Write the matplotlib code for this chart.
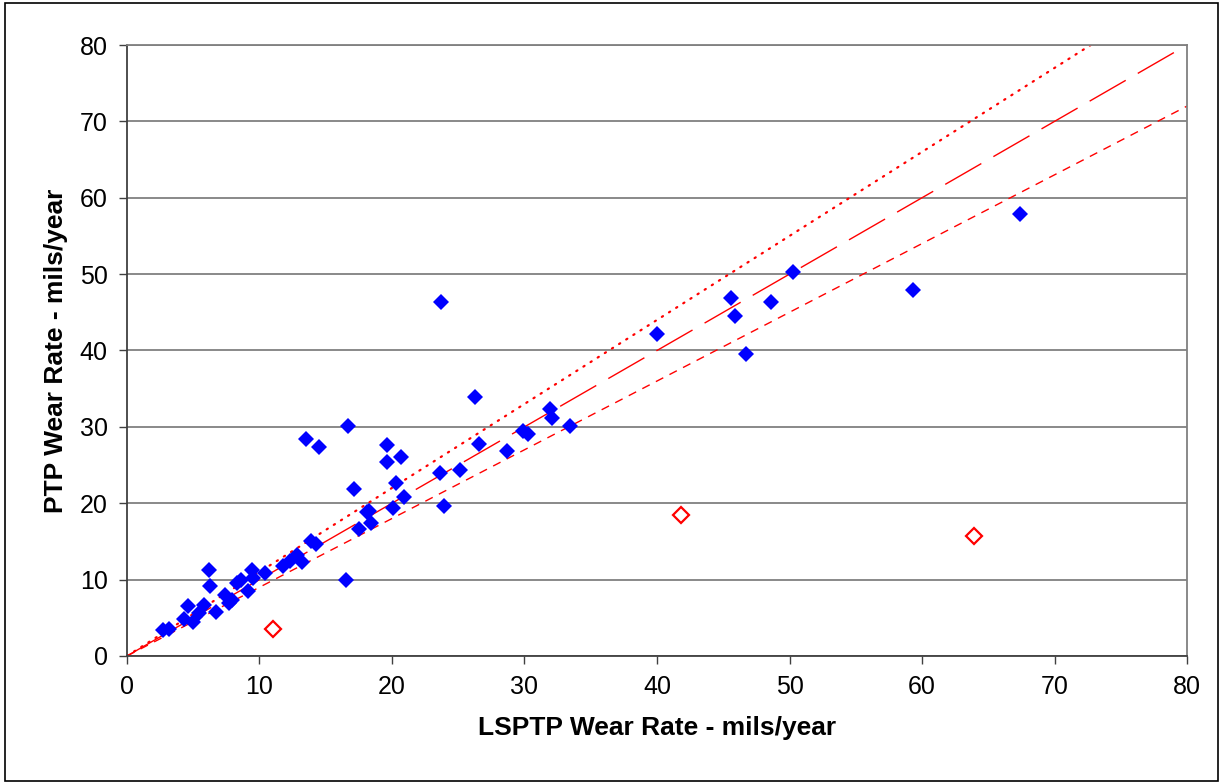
import matplotlib
matplotlib.use("Agg")
import matplotlib.pyplot as plt
from matplotlib.patches import Rectangle
import numpy as np

# ---- data ----
LSPTP = [2.7, 3.2, 4.3, 4.6, 5.0, 5.4, 5.8, 6.2, 6.3, 6.7, 7.4, 7.7, 7.9,
         8.3, 8.6, 9.1, 9.4, 9.5, 10.4, 11.8, 12.3, 12.8, 13.2, 13.5, 13.9,
         14.3, 14.5, 16.5, 16.7, 17.1, 17.5, 18.1, 18.3, 18.4, 19.6, 19.6,
         20.1, 20.3, 20.7, 20.9, 23.6, 23.7, 23.9, 25.1, 26.3, 26.6, 28.7,
         29.9, 30.3, 31.9, 32.1, 33.4, 40.0, 45.6, 45.9, 46.7, 48.6, 50.3,
         59.3, 67.4]
PTP = [3.4, 3.5, 4.8, 6.6, 4.5, 5.6, 6.7, 11.3, 9.1, 5.8, 8.0, 7.0, 7.3,
       9.6, 9.9, 8.5, 11.3, 10.2, 10.8, 11.8, 12.5, 13.2, 12.3, 28.4, 15.1,
       14.7, 27.3, 10.0, 30.1, 21.8, 16.6, 18.9, 19.0, 17.4, 27.6, 25.4,
       19.4, 22.6, 26.0, 20.8, 23.9, 46.4, 19.7, 24.4, 33.9, 27.8, 26.8,
       29.4, 29.1, 32.3, 31.2, 30.1, 42.2, 46.9, 44.5, 39.6, 46.4, 50.3,
       47.9, 57.9]

# excluded points (open red diamonds)
OUT_LSPTP = [11.0, 41.8, 63.9]
OUT_PTP = [3.5, 18.4, 15.7]

# reference lines y = k * x
SLOPES = [1.1, 1.0, 0.9]

plt.rcParams["font.family"] = ["Liberation Sans", "DejaVu Sans"]

fig = plt.figure(figsize=(12.22, 7.84), dpi=100)
ax = fig.add_axes([0.1039, 0.1633, 0.8675, 0.7793])

# outer chart border
fig.patches.append(Rectangle((0.004, 0.004), 0.993, 0.992, transform=fig.transFigure,
                             fill=False, edgecolor="#000000", linewidth=1.2))

xs = np.array([0, 80.0])
red = "#FF0000"
ax.plot(xs, SLOPES[0] * xs, color=red, lw=1.6, linestyle=(0, (0.6, 3.2)),
        dash_capstyle="round", zorder=2)
ax.plot(xs, SLOPES[1] * xs, color=red, lw=1.0, linestyle=(0, (30, 10)), zorder=2)
ax.plot(xs, SLOPES[2] * xs, color=red, lw=1.0, linestyle=(0, (6, 5)), zorder=2)

ax.plot(LSPTP, PTP, linestyle="none", marker="D", ms=8.3, color="#0000FF",
        markeredgewidth=0, zorder=3)
ax.plot(OUT_LSPTP, OUT_PTP, linestyle="none", marker="D", ms=8.5, markerfacecolor="white",
        markeredgecolor=red, markeredgewidth=1.6, zorder=3)

ax.set_xlim(0, 80)
ax.set_ylim(0, 80)
ax.set_xticks(range(0, 81, 10))
ax.set_yticks(range(0, 81, 10))
ax.yaxis.grid(True, color="#808080", linewidth=1.3)
ax.set_axisbelow(True)

for s in ["top", "right"]:
    ax.spines[s].set_color("#808080")
    ax.spines[s].set_linewidth(1.3)
for s in ["left", "bottom"]:
    ax.spines[s].set_color("#404040")
    ax.spines[s].set_linewidth(1.3)

ax.tick_params(direction="out", length=6, width=1, color="#404040",
               labelsize=18, pad=8)

ax.set_xlabel("LSPTP Wear Rate - mils/year", fontsize=19, fontweight="bold", labelpad=12)
ax.set_ylabel("PTP Wear Rate - mils/year", fontsize=19, fontweight="bold", labelpad=8)

fig.savefig("out.png", dpi=100, facecolor="white")
